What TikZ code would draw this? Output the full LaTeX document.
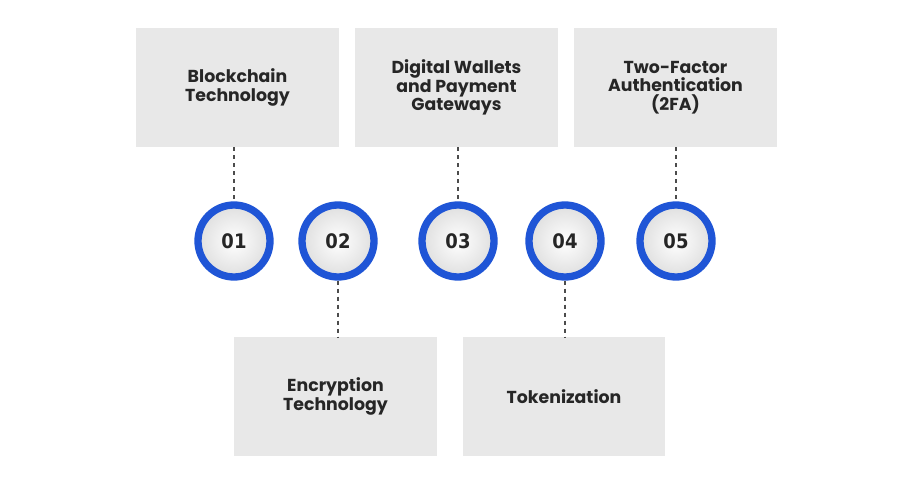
\documentclass[tikz,border=0pt]{standalone}
\usepackage{fontspec}
\setmainfont{Poppins}
\newfontfamily\numfont{DejaVu Sans Condensed}
\usetikzlibrary{positioning, calc}
\definecolor{ringblue}{HTML}{1F55D6}
\definecolor{boxgray}{HTML}{E8E8E8}

\begin{document}
\begin{tikzpicture}[x=0.75pt, y=-0.75pt,
    infobox/.style={fill=boxgray, minimum width=152pt, minimum height=89pt, inner sep=0pt,
        align=center, font=\fontsize{13}{14}\selectfont\bfseries, text=black!85},
    stepring/.style={circle, draw=ringblue, line width=5.5pt, fill=white, minimum size=54pt,
        inner sep=0pt, font=\numfont\bfseries\fontsize{15}{16}\selectfont, text=black!85},
    link/.style={draw=black!70, dashed, line width=0.9pt}]
    % canvas
    \path[use as bounding box, fill=white] (0,0) rectangle (914,481);

    % boxes
    \node[infobox] (b1) at (237.5,87.5) {Blockchain\\Technology};
    \node[infobox] (b3) at (456.5,87.5) {Digital Wallets\\and Payment\\Gateways};
    \node[infobox] (b5) at (675.5,87.5) {Two-Factor\\Authentication\\(2FA)};
    \node[infobox] (b2) at (335.5,396.5) {Encryption\\Technology};
    \node[infobox] (b4) at (564,396.5) {Tokenization};

    % circles
    \foreach \n/\x in {1/234, 2/338, 3/458, 4/565, 5/676} {
        \shade[inner color=white, outer color=black!12] (\x,241) circle (34);
        \node[stepring, fill=none] (c\n) at (\x,241) {0\n};
    }

    % connectors
    \draw[link] (b1.south -| c1) -- (c1.north);
    \draw[link] (b3.south -| c3) -- (c3.north);
    \draw[link] (b5.south -| c5) -- (c5.north);
    \draw[link] (c2.south) -- (b2.north -| c2);
    \draw[link] (c4.south) -- (b4.north -| c4);
\end{tikzpicture}
\end{document}
